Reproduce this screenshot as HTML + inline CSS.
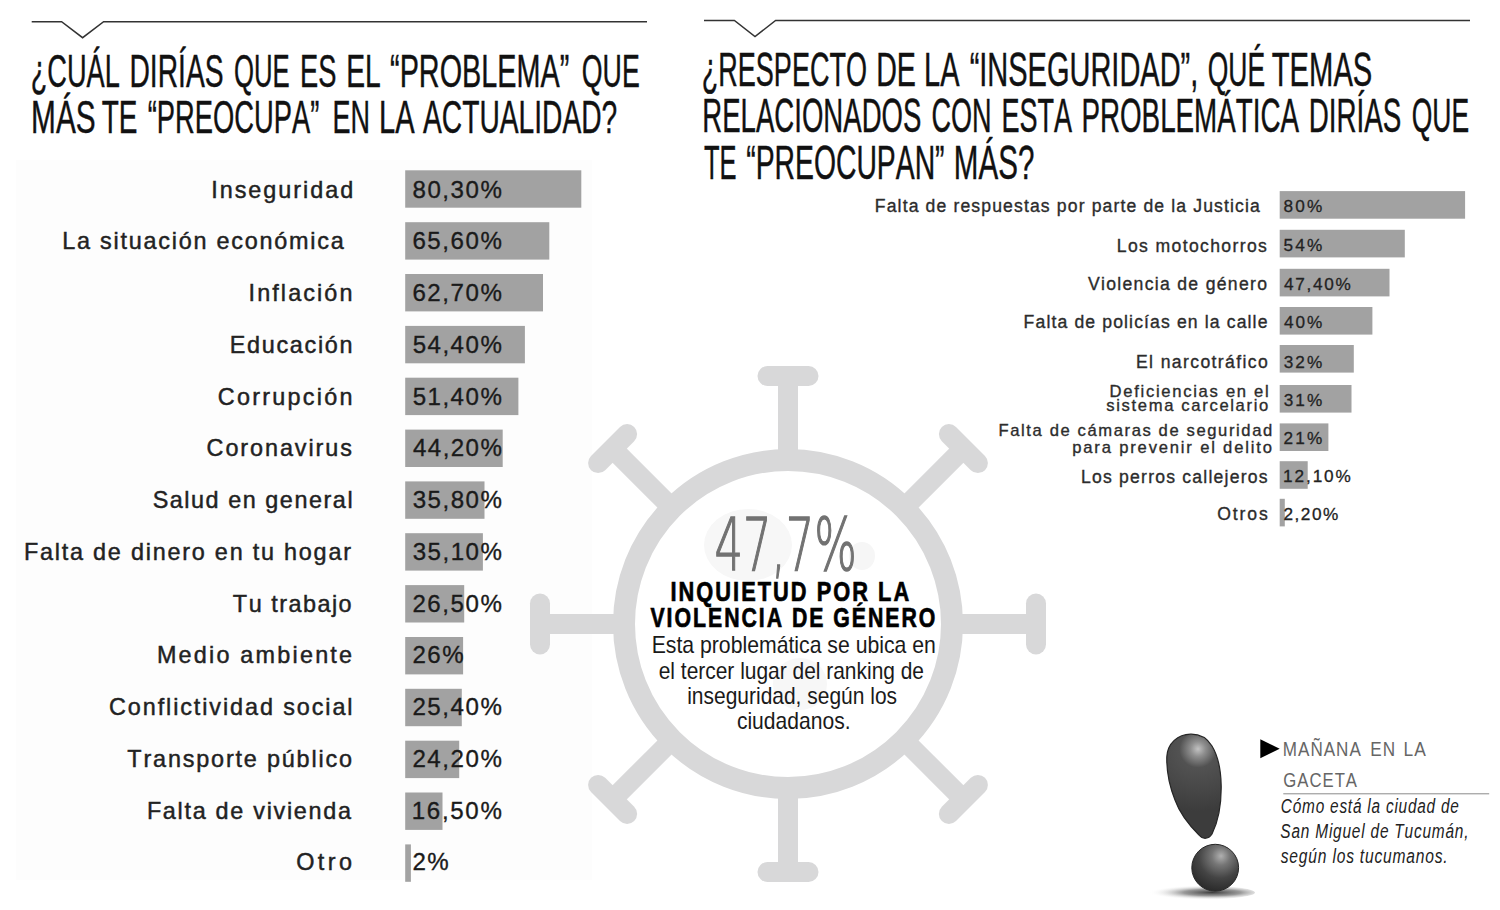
<!DOCTYPE html>
<html lang="es"><head><meta charset="utf-8"><title>Encuesta: problemas que preocupan</title>
<style>
html,body{margin:0;padding:0;background:#fff;}
body{width:1500px;height:910px;overflow:hidden;}
svg{display:block;font-family:"Liberation Sans",Arial,sans-serif;font-kerning:none;}
text{font-kerning:none;}
</style></head><body>
<svg width="1500" height="910" viewBox="0 0 1500 910">
<rect width="1500" height="910" fill="#fff"/>
<rect x="16" y="160" width="576" height="720" fill="#fdfdfd"/>
<polyline points="31.7,21.7 61.6,21.7 82.6,37.7 103.6,21.7 647,21.7" fill="none" stroke="#333" stroke-width="1.5"/>
<polyline points="704,20.5 734.4,20.5 755.0,36.6 775.6,20.5 1470,20.5" fill="none" stroke="#333" stroke-width="1.5"/>
<text x="30.76" y="87.30" textLength="89.04" lengthAdjust="spacingAndGlyphs" font-size="47.1" fill="#111" stroke="#111" stroke-width="0.45">¿CUÁL</text>
<text x="129.38" y="87.30" textLength="94.22" lengthAdjust="spacingAndGlyphs" font-size="47.1" fill="#111" stroke="#111" stroke-width="0.45">DIRÍAS</text>
<text x="233.88" y="87.30" textLength="55.72" lengthAdjust="spacingAndGlyphs" font-size="47.1" fill="#111" stroke="#111" stroke-width="0.45">QUE</text>
<text x="300.06" y="87.30" textLength="36.39" lengthAdjust="spacingAndGlyphs" font-size="47.1" fill="#111" stroke="#111" stroke-width="0.45">ES</text>
<text x="346.18" y="87.30" textLength="34.56" lengthAdjust="spacingAndGlyphs" font-size="47.1" fill="#111" stroke="#111" stroke-width="0.45">EL</text>
<text x="390.05" y="87.30" textLength="179.21" lengthAdjust="spacingAndGlyphs" font-size="47.1" fill="#111" stroke="#111" stroke-width="0.45">“PROBLEMA”</text>
<text x="581.83" y="87.30" textLength="57.91" lengthAdjust="spacingAndGlyphs" font-size="47.1" fill="#111" stroke="#111" stroke-width="0.45">QUE</text>
<text x="31.05" y="133.30" textLength="64.61" lengthAdjust="spacingAndGlyphs" font-size="47.1" fill="#111" stroke="#111" stroke-width="0.45">MÁS</text>
<text x="101.67" y="133.30" textLength="35.73" lengthAdjust="spacingAndGlyphs" font-size="47.1" fill="#111" stroke="#111" stroke-width="0.45">TE</text>
<text x="147.70" y="133.30" textLength="171.60" lengthAdjust="spacingAndGlyphs" font-size="47.1" fill="#111" stroke="#111" stroke-width="0.45">“PREOCUPA”</text>
<text x="332.38" y="133.30" textLength="37.52" lengthAdjust="spacingAndGlyphs" font-size="47.1" fill="#111" stroke="#111" stroke-width="0.45">EN</text>
<text x="379.12" y="133.30" textLength="35.54" lengthAdjust="spacingAndGlyphs" font-size="47.1" fill="#111" stroke="#111" stroke-width="0.45">LA</text>
<text x="423.04" y="133.30" textLength="194.20" lengthAdjust="spacingAndGlyphs" font-size="47.1" fill="#111" stroke="#111" stroke-width="0.45">ACTUALIDAD?</text>
<text x="701.77" y="86.30" textLength="165.22" lengthAdjust="spacingAndGlyphs" font-size="47.9" fill="#111" stroke="#111" stroke-width="0.45">¿RESPECTO</text>
<text x="876.15" y="86.30" textLength="39.78" lengthAdjust="spacingAndGlyphs" font-size="47.9" fill="#111" stroke="#111" stroke-width="0.45">DE</text>
<text x="924.12" y="86.30" textLength="35.43" lengthAdjust="spacingAndGlyphs" font-size="47.9" fill="#111" stroke="#111" stroke-width="0.45">LA</text>
<text x="969.64" y="86.30" textLength="228.67" lengthAdjust="spacingAndGlyphs" font-size="47.9" fill="#111" stroke="#111" stroke-width="0.45">“INSEGURIDAD”,</text>
<text x="1207.75" y="86.30" textLength="57.39" lengthAdjust="spacingAndGlyphs" font-size="47.9" fill="#111" stroke="#111" stroke-width="0.45">QUÉ</text>
<text x="1271.74" y="86.30" textLength="100.60" lengthAdjust="spacingAndGlyphs" font-size="47.9" fill="#111" stroke="#111" stroke-width="0.45">TEMAS</text>
<text x="702.34" y="132.40" textLength="219.03" lengthAdjust="spacingAndGlyphs" font-size="47.9" fill="#111" stroke="#111" stroke-width="0.45">RELACIONADOS</text>
<text x="931.53" y="132.40" textLength="60.08" lengthAdjust="spacingAndGlyphs" font-size="47.9" fill="#111" stroke="#111" stroke-width="0.45">CON</text>
<text x="1001.48" y="132.40" textLength="70.57" lengthAdjust="spacingAndGlyphs" font-size="47.9" fill="#111" stroke="#111" stroke-width="0.45">ESTA</text>
<text x="1081.42" y="132.40" textLength="217.63" lengthAdjust="spacingAndGlyphs" font-size="47.9" fill="#111" stroke="#111" stroke-width="0.45">PROBLEMÁTICA</text>
<text x="1308.72" y="132.40" textLength="92.55" lengthAdjust="spacingAndGlyphs" font-size="47.9" fill="#111" stroke="#111" stroke-width="0.45">DIRÍAS</text>
<text x="1411.75" y="132.40" textLength="57.39" lengthAdjust="spacingAndGlyphs" font-size="47.9" fill="#111" stroke="#111" stroke-width="0.45">QUE</text>
<text x="704.03" y="178.60" textLength="32.57" lengthAdjust="spacingAndGlyphs" font-size="47.9" fill="#111" stroke="#111" stroke-width="0.45">TE</text>
<text x="746.26" y="178.60" textLength="198.27" lengthAdjust="spacingAndGlyphs" font-size="47.9" fill="#111" stroke="#111" stroke-width="0.45">“PREOCUPAN”</text>
<text x="953.87" y="178.60" textLength="80.52" lengthAdjust="spacingAndGlyphs" font-size="47.9" fill="#111" stroke="#111" stroke-width="0.45">MÁS?</text>
<g fill="none" stroke="#d8d8d9" stroke-linecap="round">
<circle cx="788" cy="624" r="164" stroke-width="22"/>
<line x1="958.0" y1="624.0" x2="1036.0" y2="624.0" stroke-width="20" stroke-linecap="butt"/>
<line x1="1036.0" y1="644.5" x2="1036.0" y2="603.5" stroke-width="20"/>
<line x1="908.2" y1="744.2" x2="963.4" y2="799.4" stroke-width="20" stroke-linecap="butt"/>
<line x1="948.9" y1="813.9" x2="977.9" y2="784.9" stroke-width="20"/>
<line x1="788.0" y1="794.0" x2="788.0" y2="872.0" stroke-width="20" stroke-linecap="butt"/>
<line x1="767.5" y1="872.0" x2="808.5" y2="872.0" stroke-width="20"/>
<line x1="667.8" y1="744.2" x2="612.6" y2="799.4" stroke-width="20" stroke-linecap="butt"/>
<line x1="598.1" y1="784.9" x2="627.1" y2="813.9" stroke-width="20"/>
<line x1="618.0" y1="624.0" x2="540.0" y2="624.0" stroke-width="20" stroke-linecap="butt"/>
<line x1="540.0" y1="603.5" x2="540.0" y2="644.5" stroke-width="20"/>
<line x1="667.8" y1="503.8" x2="612.6" y2="448.6" stroke-width="20" stroke-linecap="butt"/>
<line x1="627.1" y1="434.1" x2="598.1" y2="463.1" stroke-width="20"/>
<line x1="788.0" y1="454.0" x2="788.0" y2="376.0" stroke-width="20" stroke-linecap="butt"/>
<line x1="808.5" y1="376.0" x2="767.5" y2="376.0" stroke-width="20"/>
<line x1="908.2" y1="503.8" x2="963.4" y2="448.6" stroke-width="20" stroke-linecap="butt"/>
<line x1="977.9" y1="463.1" x2="948.9" y2="434.1" stroke-width="20"/>
</g>
<ellipse cx="748" cy="545" rx="44" ry="36" fill="#f7f7f7"/>
<ellipse cx="862" cy="556" rx="13" ry="14" fill="#f6f6f6"/>
<ellipse cx="800" cy="684" rx="27" ry="26" fill="#f7f7f7"/>
<text x="714.52" y="570.00" textLength="142.13" lengthAdjust="spacingAndGlyphs" font-size="73" fill="#727272" font-family="DejaVu Sans" font-weight="200" stroke="#727272" stroke-width="1.5">47,7%</text>
<text x="670.44" y="601.40" letter-spacing="2.6" textLength="240.76" lengthAdjust="spacingAndGlyphs" font-size="28" fill="#000" font-weight="bold" stroke="#000" stroke-width="0.7">INQUIETUD POR LA</text>
<text x="650.45" y="627.40" letter-spacing="2.6" textLength="286.91" lengthAdjust="spacingAndGlyphs" font-size="28" fill="#000" font-weight="bold" stroke="#000" stroke-width="0.7">VIOLENCIA DE GÉNERO</text>
<text x="651.66" y="652.60" textLength="284.22" lengthAdjust="spacingAndGlyphs" font-size="23.6" fill="#1a1a1a">Esta problemática se ubica en</text>
<text x="658.71" y="678.80" textLength="265.32" lengthAdjust="spacingAndGlyphs" font-size="23.6" fill="#1a1a1a">el tercer lugar del ranking de</text>
<text x="687.20" y="703.50" textLength="209.86" lengthAdjust="spacingAndGlyphs" font-size="23.6" fill="#1a1a1a">inseguridad, según los</text>
<text x="736.90" y="729.40" textLength="113.72" lengthAdjust="spacingAndGlyphs" font-size="23.6" fill="#1a1a1a">ciudadanos.</text>
<rect x="405.2" y="170.3" width="176.1" height="37.4" fill="#a2a2a2"/>
<text x="211.24" y="197.68" letter-spacing="1.968" font-size="23.4" fill="#222" stroke="#222" stroke-width="0.45">Inseguridad</text>
<text x="412.55" y="197.68" letter-spacing="1.514" font-size="24.1" fill="#1a1a1a" stroke="#1a1a1a" stroke-width="0.35">80,30%</text>
<rect x="405.2" y="222.2" width="144.1" height="37.4" fill="#a2a2a2"/>
<text x="62.18" y="249.42" letter-spacing="1.765" font-size="23.4" fill="#222" stroke="#222" stroke-width="0.45">La situación económica</text>
<text x="412.38" y="249.42" letter-spacing="1.549" font-size="24.1" fill="#1a1a1a" stroke="#1a1a1a" stroke-width="0.35">65,60%</text>
<rect x="405.2" y="274.0" width="137.8" height="37.4" fill="#a2a2a2"/>
<text x="248.54" y="301.15" letter-spacing="2.103" font-size="23.4" fill="#222" stroke="#222" stroke-width="0.45">Inflación</text>
<text x="412.38" y="301.15" letter-spacing="1.549" font-size="24.1" fill="#1a1a1a" stroke="#1a1a1a" stroke-width="0.35">62,70%</text>
<rect x="405.2" y="325.9" width="119.7" height="37.4" fill="#a2a2a2"/>
<text x="229.78" y="352.89" letter-spacing="1.683" font-size="23.4" fill="#222" stroke="#222" stroke-width="0.45">Educación</text>
<text x="412.64" y="352.89" letter-spacing="1.497" font-size="24.1" fill="#1a1a1a" stroke="#1a1a1a" stroke-width="0.35">54,40%</text>
<rect x="405.2" y="377.7" width="113.2" height="37.4" fill="#a2a2a2"/>
<text x="217.81" y="404.62" letter-spacing="2.251" font-size="23.4" fill="#222" stroke="#222" stroke-width="0.45">Corrupción</text>
<text x="412.64" y="404.62" letter-spacing="1.497" font-size="24.1" fill="#1a1a1a" stroke="#1a1a1a" stroke-width="0.35">51,40%</text>
<rect x="405.2" y="429.6" width="97.5" height="37.4" fill="#a2a2a2"/>
<text x="206.61" y="456.36" letter-spacing="1.918" font-size="23.4" fill="#222" stroke="#222" stroke-width="0.45">Coronavirus</text>
<text x="413.05" y="456.36" letter-spacing="1.415" font-size="24.1" fill="#1a1a1a" stroke="#1a1a1a" stroke-width="0.35">44,20%</text>
<rect x="405.2" y="481.4" width="79.3" height="37.4" fill="#a2a2a2"/>
<text x="152.64" y="508.10" letter-spacing="1.539" font-size="23.4" fill="#222" stroke="#222" stroke-width="0.45">Salud en general</text>
<text x="412.68" y="508.10" letter-spacing="1.488" font-size="24.1" fill="#1a1a1a" stroke="#1a1a1a" stroke-width="0.35">35,80%</text>
<rect x="405.2" y="533.2" width="77.7" height="37.4" fill="#a2a2a2"/>
<text x="23.88" y="559.83" letter-spacing="1.777" font-size="23.4" fill="#222" stroke="#222" stroke-width="0.45">Falta de dinero en tu hogar</text>
<text x="412.68" y="559.83" letter-spacing="1.488" font-size="24.1" fill="#1a1a1a" stroke="#1a1a1a" stroke-width="0.35">35,10%</text>
<rect x="405.2" y="585.1" width="59.0" height="37.4" fill="#a2a2a2"/>
<text x="232.87" y="611.57" letter-spacing="1.495" font-size="23.4" fill="#222" stroke="#222" stroke-width="0.45">Tu trabajo</text>
<text x="412.39" y="611.57" letter-spacing="1.547" font-size="24.1" fill="#1a1a1a" stroke="#1a1a1a" stroke-width="0.35">26,50%</text>
<rect x="405.2" y="637.0" width="57.9" height="37.4" fill="#a2a2a2"/>
<text x="156.88" y="663.30" letter-spacing="2.213" font-size="23.4" fill="#222" stroke="#222" stroke-width="0.45">Medio ambiente</text>
<text x="412.39" y="663.30" letter-spacing="1.568" font-size="24.1" fill="#1a1a1a" stroke="#1a1a1a" stroke-width="0.35">26%</text>
<rect x="405.2" y="688.8" width="56.6" height="37.4" fill="#a2a2a2"/>
<text x="109.01" y="715.04" letter-spacing="1.908" font-size="23.4" fill="#222" stroke="#222" stroke-width="0.45">Conflictividad social</text>
<text x="412.39" y="715.04" letter-spacing="1.547" font-size="24.1" fill="#1a1a1a" stroke="#1a1a1a" stroke-width="0.35">25,40%</text>
<rect x="405.2" y="740.7" width="54.0" height="37.4" fill="#a2a2a2"/>
<text x="127.37" y="766.78" letter-spacing="1.818" font-size="23.4" fill="#222" stroke="#222" stroke-width="0.45">Transporte público</text>
<text x="412.39" y="766.78" letter-spacing="1.547" font-size="24.1" fill="#1a1a1a" stroke="#1a1a1a" stroke-width="0.35">24,20%</text>
<rect x="405.2" y="792.5" width="37.3" height="37.4" fill="#a2a2a2"/>
<text x="146.88" y="818.51" letter-spacing="1.707" font-size="23.4" fill="#222" stroke="#222" stroke-width="0.45">Falta de vivienda</text>
<text x="411.76" y="818.51" letter-spacing="1.671" font-size="24.1" fill="#1a1a1a" stroke="#1a1a1a" stroke-width="0.35">16,50%</text>
<rect x="405.2" y="844.4" width="5.7" height="37.4" fill="#a2a2a2"/>
<text x="296.19" y="870.25" letter-spacing="3.461" font-size="23.4" fill="#222" stroke="#222" stroke-width="0.45">Otro</text>
<text x="412.39" y="870.25" letter-spacing="1.539" font-size="24.1" fill="#1a1a1a" stroke="#1a1a1a" stroke-width="0.35">2%</text>
<rect x="1279.7" y="191.1" width="185.4" height="27.6" fill="#a2a2a2"/>
<text x="874.81" y="211.80" letter-spacing="1.130" font-size="17.6" fill="#2c2c2c" stroke="#2c2c2c" stroke-width="0.35">Falta de respuestas por parte de la Justicia</text>
<text x="1283.55" y="211.80" letter-spacing="2.118" font-size="17.2" fill="#222" stroke="#222" stroke-width="0.3">80%</text>
<rect x="1279.7" y="229.8" width="125.1" height="27.6" fill="#a2a2a2"/>
<text x="1116.81" y="251.60" letter-spacing="1.357" font-size="17.6" fill="#2c2c2c" stroke="#2c2c2c" stroke-width="0.35">Los motochorros</text>
<text x="1283.61" y="250.90" letter-spacing="2.088" font-size="17.2" fill="#222" stroke="#222" stroke-width="0.3">54%</text>
<rect x="1279.7" y="268.8" width="109.8" height="27.6" fill="#a2a2a2"/>
<text x="1087.97" y="289.90" letter-spacing="1.302" font-size="17.6" fill="#2c2c2c" stroke="#2c2c2c" stroke-width="0.35">Violencia de género</text>
<text x="1283.91" y="289.90" letter-spacing="1.734" font-size="17.2" fill="#222" stroke="#222" stroke-width="0.3">47,40%</text>
<rect x="1279.7" y="307.0" width="92.7" height="27.6" fill="#a2a2a2"/>
<text x="1023.61" y="328.20" letter-spacing="1.129" font-size="17.6" fill="#2c2c2c" stroke="#2c2c2c" stroke-width="0.35">Falta de policías en la calle</text>
<text x="1283.91" y="328.20" letter-spacing="1.941" font-size="17.2" fill="#222" stroke="#222" stroke-width="0.3">40%</text>
<rect x="1279.7" y="345.0" width="74.1" height="27.6" fill="#a2a2a2"/>
<text x="1136.01" y="367.60" letter-spacing="1.378" font-size="17.6" fill="#2c2c2c" stroke="#2c2c2c" stroke-width="0.35">El narcotráfico</text>
<text x="1283.64" y="367.50" letter-spacing="2.071" font-size="17.2" fill="#222" stroke="#222" stroke-width="0.3">32%</text>
<rect x="1279.7" y="385.0" width="71.8" height="27.6" fill="#a2a2a2"/>
<text x="1109.59" y="396.80" letter-spacing="1.710" font-size="16.6" fill="#2c2c2c" stroke="#2c2c2c" stroke-width="0.35">Deficiencias en el</text>
<text x="1106.29" y="410.60" letter-spacing="1.664" font-size="16.6" fill="#2c2c2c" stroke="#2c2c2c" stroke-width="0.35">sistema carcelario</text>
<text x="1283.64" y="405.80" letter-spacing="2.071" font-size="17.2" fill="#222" stroke="#222" stroke-width="0.3">31%</text>
<rect x="1279.7" y="423.4" width="48.7" height="27.6" fill="#a2a2a2"/>
<text x="998.49" y="435.60" letter-spacing="1.607" font-size="16.6" fill="#2c2c2c" stroke="#2c2c2c" stroke-width="0.35">Falta de cámaras de seguridad</text>
<text x="1072.28" y="453.40" letter-spacing="1.820" font-size="16.6" fill="#2c2c2c" stroke="#2c2c2c" stroke-width="0.35">para prevenir el delito</text>
<text x="1283.43" y="443.80" letter-spacing="2.176" font-size="17.2" fill="#222" stroke="#222" stroke-width="0.3">21%</text>
<rect x="1279.7" y="461.2" width="28.0" height="27.6" fill="#a2a2a2"/>
<text x="1080.91" y="482.60" letter-spacing="1.220" font-size="17.6" fill="#2c2c2c" stroke="#2c2c2c" stroke-width="0.35">Los perros callejeros</text>
<text x="1282.99" y="482.30" letter-spacing="1.918" font-size="17.2" fill="#222" stroke="#222" stroke-width="0.3">12,10%</text>
<rect x="1279.7" y="498.8" width="5.1" height="27.6" fill="#a2a2a2"/>
<text x="1217.22" y="519.50" letter-spacing="1.860" font-size="17.6" fill="#2c2c2c" stroke="#2c2c2c" stroke-width="0.35">Otros</text>
<text x="1283.43" y="519.50" letter-spacing="1.527" font-size="17.2" fill="#222" stroke="#222" stroke-width="0.3">2,20%</text>
<defs>
<radialGradient id="gb" gradientUnits="userSpaceOnUse" cx="1198" cy="749" r="62" fx="1198" fy="749">
<stop offset="0" stop-color="#c2c2c2"/><stop offset="0.12" stop-color="#8e8e8e"/><stop offset="0.3" stop-color="#525252"/><stop offset="0.7" stop-color="#464646"/><stop offset="1" stop-color="#3c3c3c"/>
</radialGradient>
<radialGradient id="gd" gradientUnits="userSpaceOnUse" cx="1220" cy="857" r="36" fx="1221" fy="856">
<stop offset="0" stop-color="#b0b0b0"/><stop offset="0.25" stop-color="#767676"/><stop offset="0.6" stop-color="#444"/><stop offset="1" stop-color="#282828"/>
</radialGradient>
<radialGradient id="gs" cx="0.66" cy="0.5" r="0.5">
<stop offset="0" stop-color="#333" stop-opacity="0.95"/><stop offset="0.45" stop-color="#555" stop-opacity="0.6"/><stop offset="1" stop-color="#fff" stop-opacity="0"/>
</radialGradient>
</defs>
<ellipse cx="1192" cy="892.5" rx="63" ry="7.5" fill="url(#gs)"/>
<path d="M1190.6,734.2 C1199,734 1207,738 1212,746 C1218,756 1221,770 1221.2,786 C1221.4,805 1218,822 1212,834 C1209,839 1203,840 1199,835 C1190,826 1180,814 1175,800 C1169,785 1166.5,770 1166.8,757 C1167.5,743 1178,734.4 1190.6,734.2 Z" fill="url(#gb)" stroke="#262626" stroke-width="1.2"/>
<circle cx="1215.2" cy="867.7" r="23.4" fill="url(#gd)" stroke="#262626" stroke-width="1"/>
<polygon points="1260.3,739.2 1279.7,748.7 1260.3,758.3" fill="#000"/>
<text x="1282.80" y="755.80" letter-spacing="1.2" textLength="79.03" lengthAdjust="spacingAndGlyphs" font-size="20.5" fill="#666">MAÑANA</text>
<text x="1370.29" y="755.80" letter-spacing="1.2" textLength="25.81" lengthAdjust="spacingAndGlyphs" font-size="20.5" fill="#666">EN</text>
<text x="1403.58" y="755.80" letter-spacing="1.2" textLength="23.28" lengthAdjust="spacingAndGlyphs" font-size="20.5" fill="#666">LA</text>
<text x="1283.36" y="786.70" letter-spacing="1.2" textLength="74.65" lengthAdjust="spacingAndGlyphs" font-size="20.5" fill="#666">GACETA</text>
<line x1="1283.3" y1="793.8" x2="1489.2" y2="793.8" stroke="#8a8a8a" stroke-width="1"/>
<text x="1280.85" y="812.60" letter-spacing="1.0" textLength="178.81" lengthAdjust="spacingAndGlyphs" font-size="19.5" fill="#222" font-style="italic">Cómo está la ciudad de</text>
<text x="1280.36" y="838.30" letter-spacing="1.0" textLength="188.92" lengthAdjust="spacingAndGlyphs" font-size="19.5" fill="#222" font-style="italic">San Miguel de Tucumán,</text>
<text x="1280.76" y="863.00" letter-spacing="1.0" textLength="167.75" lengthAdjust="spacingAndGlyphs" font-size="19.5" fill="#222" font-style="italic">según los tucumanos.</text>
</svg>
</body></html>
